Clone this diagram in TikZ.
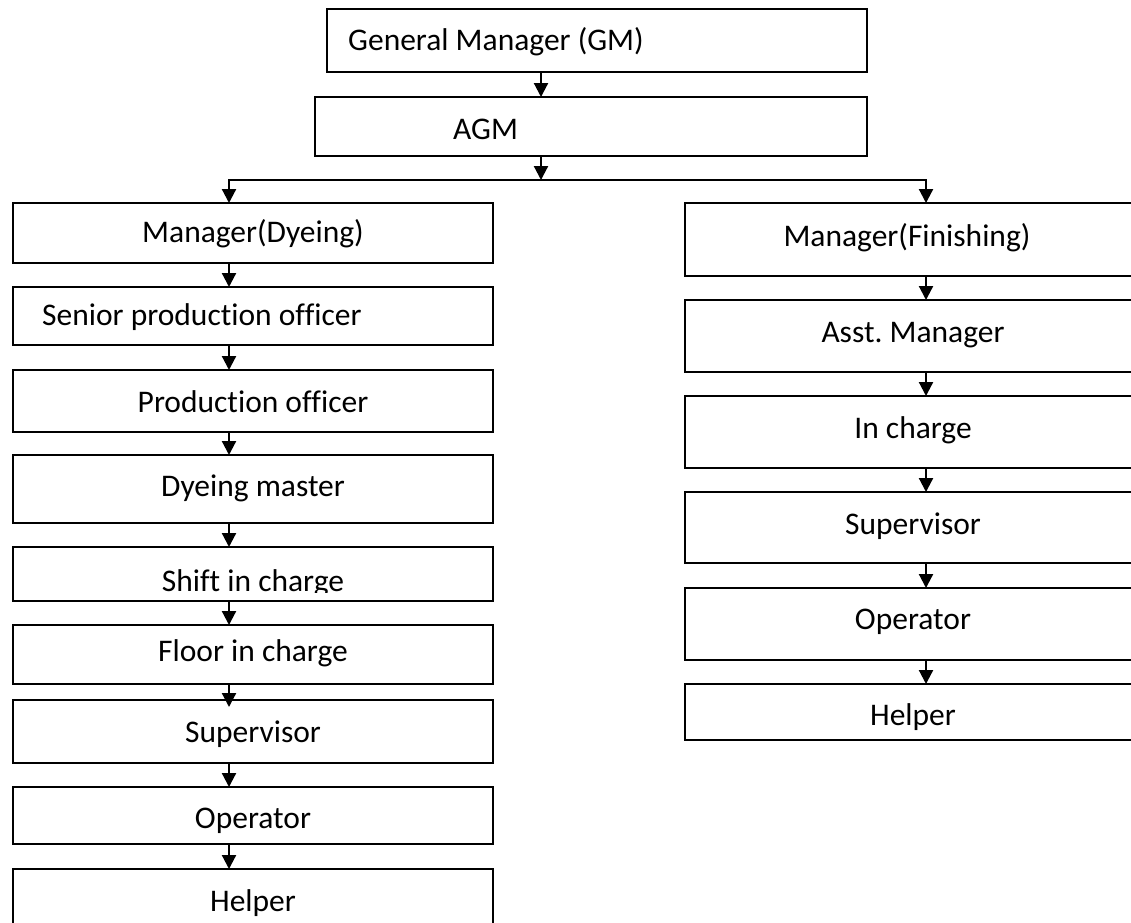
\documentclass[tikz,border=0pt]{standalone}
\usepackage{fontspec}
\setmainfont[Ligatures=NoCommon]{Carlito}
\usetikzlibrary{arrows.meta,calc}
\frenchspacing
\begin{document}
\begin{tikzpicture}[x=1pt,y=-1pt,
  box/.style={draw=black,line width=2.2pt,rectangle,inner sep=0pt,outer sep=0pt,anchor=north west},
  lbl/.style={font=\fontsize{31.5}{36}\selectfont,inner sep=0pt,anchor=base},
  lbll/.style={lbl,anchor=base west},
  arr/.style={line width=2.2pt,-{Triangle[width=14pt,length=14pt]}}]
\useasboundingbox (0,0) rectangle (1131,922);
\fill[white] (0,0) rectangle (1131,922);
\clip (0,0) rectangle (1131,922);

% top boxes
\node[box,minimum width=540pt,minimum height=63pt] (gm) at (327,9) {};
\node[box,minimum width=552pt,minimum height=59pt] (agm) at (315,97) {};

% left column
\node[box,minimum width=480pt,minimum height=60pt] (md) at (13,203) {};
\node[box,minimum width=480pt,minimum height=58pt] (spo) at (13,287) {};
\node[box,minimum width=480pt,minimum height=62pt] (po) at (13,370) {};
\node[box,minimum width=480pt,minimum height=68pt] (dm) at (13,455) {};
\node[box,minimum width=480pt,minimum height=54pt] (sic) at (13,547) {};
\node[box,minimum width=480pt,minimum height=59pt] (fic) at (13,625) {};
\node[box,minimum width=480pt,minimum height=63pt] (sup) at (13,700) {};
\node[box,minimum width=480pt,minimum height=57pt] (op) at (13,787) {};
\node[box,minimum width=480pt,minimum height=70pt] (hlp) at (13,869) {};

% right column
\node[box,minimum width=455pt,minimum height=73pt] (mf) at (685,203) {};
\node[box,minimum width=455pt,minimum height=72pt] (am) at (685,300) {};
\node[box,minimum width=455pt,minimum height=72pt] (ic) at (685,396) {};
\node[box,minimum width=455pt,minimum height=71pt] (rsup) at (685,492) {};
\node[box,minimum width=455pt,minimum height=72pt] (rop) at (685,588) {};
\node[box,minimum width=455pt,minimum height=56pt] (rhlp) at (685,684) {};

% texts
\node[lbll] (gmt) at (348,50) {General Manager (GM)};
\node[lbll] (agmt) at (453,139) {AGM};
\node[lbl] (mdt) at (253,242) {Manager(Dyeing)};
\node[lbll] (spot) at (42,325) {Senior production officer};
\node[lbl] (pot) at (253,412) {Production officer};
\node[lbl] (dmt) at (253,496) {Dyeing master};
\begin{scope}
\clip (13,547) rectangle (493,592);
\node[lbl] (sict) at (253,591) {Shift in charge};
\end{scope}
\node[lbl] (fict) at (253,661) {Floor in charge};
\node[lbl] (supt) at (253,742) {Supervisor};
\node[lbl] (opt) at (253,828) {Operator};
\node[lbl] (hlpt) at (253,911) {Helper};

\node[lbl] (mft) at (907,246) {Manager(Finishing)};
\node[lbl] (amt) at (913,342) {Asst.\ Manager};
\node[lbl] (ict) at (913,438) {In charge};
\node[lbl] (rsupt) at (913,534) {Supervisor};
\node[lbl] (ropt) at (913,629) {Operator};
\node[lbl] (rhlpt) at (913,725) {Helper};

% connector guides
\coordinate (lx) at (229,0);
\coordinate (rx) at (926,0);
\coordinate (cx) at (541,0);
\coordinate (br) at (0,180);

\draw[arr] (gm.south -| cx) -- (agm.north -| cx);
\draw[arr] (agm.south -| cx) -- (cx |- br);
\draw[arr] (cx |- br) -| (md.north -| lx);
\draw[arr] (cx |- br) -| (mf.north -| rx);

\draw[arr] (md.south -| lx) -- (spo.north -| lx);
\draw[arr] (spo.south -| lx) -- (po.north -| lx);
\draw[arr] (po.south -| lx) -- (dm.north -| lx);
\draw[arr] (dm.south -| lx) -- (sic.north -| lx);
\draw[arr] (sic.south -| lx) -- (fic.north -| lx);
\draw[arr] (fic.south -| lx) -- ($(sup.north -| lx)+(0,7)$);
\draw[arr] (sup.south -| lx) -- (op.north -| lx);
\draw[arr] (op.south -| lx) -- (hlp.north -| lx);

\draw[arr] (mf.south -| rx) -- (am.north -| rx);
\draw[arr] (am.south -| rx) -- (ic.north -| rx);
\draw[arr] (ic.south -| rx) -- (rsup.north -| rx);
\draw[arr] (rsup.south -| rx) -- (rop.north -| rx);
\draw[arr] (rop.south -| rx) -- (rhlp.north -| rx);
\end{tikzpicture}
\end{document}
